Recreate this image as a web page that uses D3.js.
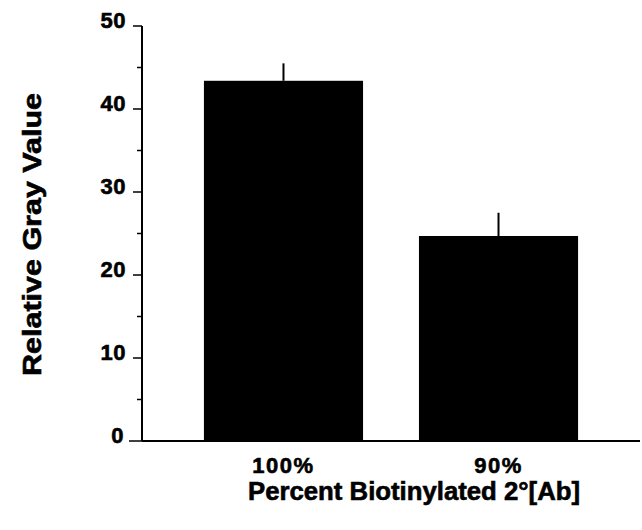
<!DOCTYPE html>
<html>
<head>
<meta charset="utf-8">
<script src="https://cdn.jsdelivr.net/npm/d3@7"></script>
<style>
  body { margin: 0; background: #fff; }
  svg { display: block; }
  text { stroke: #000; stroke-width: 0.6px; }
</style>
</head>
<body>
<div id="chart"></div>
<script>
// data
const categories = ["100%", "90%"];
const means = [43.4, 24.7];
const errors = [2.1, 2.8];
const yTicks = [0, 10, 20, 30, 40, 50];

const width = 642, height = 530;
const font = "'Liberation Sans', Arial, sans-serif";

const data = categories.map((c, i) => ({ cat: c, mean: means[i], err: errors[i] }));

const x = d3.scaleBand()
    .domain(categories)
    .range([142, 640])
    .paddingInner(0.26)
    .paddingOuter(0.288);

const y = d3.scaleLinear()
    .domain([0, 50])
    .range([441, 26]);

const svg = d3.select("#chart").append("svg")
    .attr("width", width)
    .attr("height", height)
    .attr("font-family", font)
    .attr("font-weight", "bold");

// bars
svg.append("g")
  .selectAll("rect")
  .data(data)
  .join("rect")
    .attr("x", d => x(d.cat))
    .attr("y", d => y(d.mean))
    .attr("width", x.bandwidth())
    .attr("height", d => y(0) - y(d.mean))
    .attr("fill", "#000");

// error bars (upper half only)
svg.append("g")
  .selectAll("line")
  .data(data)
  .join("line")
    .attr("x1", d => x(d.cat) + x.bandwidth() / 2)
    .attr("x2", d => x(d.cat) + x.bandwidth() / 2)
    .attr("y1", d => y(d.mean))
    .attr("y2", d => y(d.mean + d.err))
    .attr("stroke", "#000")
    .attr("stroke-width", 2);

// y axis: minor ticks at 5s, major at 10s
const yAxis = svg.append("g").attr("transform", "translate(142,0)");
yAxis.append("line")
    .attr("y1", y(0)).attr("y2", y(50))
    .attr("stroke", "#000").attr("stroke-width", 2);
yAxis.selectAll(".minor")
  .data(d3.range(5, 50, 10))
  .join("line")
    .attr("class", "minor")
    .attr("x1", -5).attr("x2", 0)
    .attr("y1", d => y(d)).attr("y2", d => y(d))
    .attr("stroke", "#000").attr("stroke-width", 1.5);
yAxis.selectAll(".major")
  .data(yTicks)
  .join("line")
    .attr("class", "major")
    .attr("x1", d => d === 0 ? -13 : -9).attr("x2", 0)
    .attr("y1", d => y(d)).attr("y2", d => y(d))
    .attr("stroke", "#000").attr("stroke-width", 1.5);
yAxis.selectAll("text")
  .data(yTicks)
  .join("text")
    .attr("x", d => d === 0 ? -18 : -16)
    .attr("y", d => y(d) + 2)
    .attr("text-anchor", "end")
    .attr("font-size", 22)
    .attr("letter-spacing", 0.5)
    .text(d => d);

// x axis baseline
svg.append("line")
    .attr("x1", 142).attr("x2", 640)
    .attr("y1", y(0)).attr("y2", y(0))
    .attr("stroke", "#000").attr("stroke-width", 2);

// category labels
svg.append("g")
  .selectAll("text")
  .data(categories)
  .join("text")
    .attr("x", d => x(d) + x.bandwidth() / 2)
    .attr("y", 473)
    .attr("text-anchor", "middle")
    .attr("font-size", 22)
    .attr("letter-spacing", 1.5)
    .text(d => d);

// axis titles
svg.append("text")
    .attr("x", 414)
    .attr("y", 500)
    .attr("text-anchor", "middle")
    .attr("font-size", 25)
    .attr("textLength", 332)
    .attr("lengthAdjust", "spacingAndGlyphs")
    .text("Percent Biotinylated 2°[Ab]");

svg.append("text")
    .attr("transform", "translate(41,234.5) rotate(-90)")
    .attr("text-anchor", "middle")
    .attr("font-size", 25)
    .attr("textLength", 283)
    .attr("lengthAdjust", "spacingAndGlyphs")
    .text("Relative Gray Value");
</script>
</body>
</html>
